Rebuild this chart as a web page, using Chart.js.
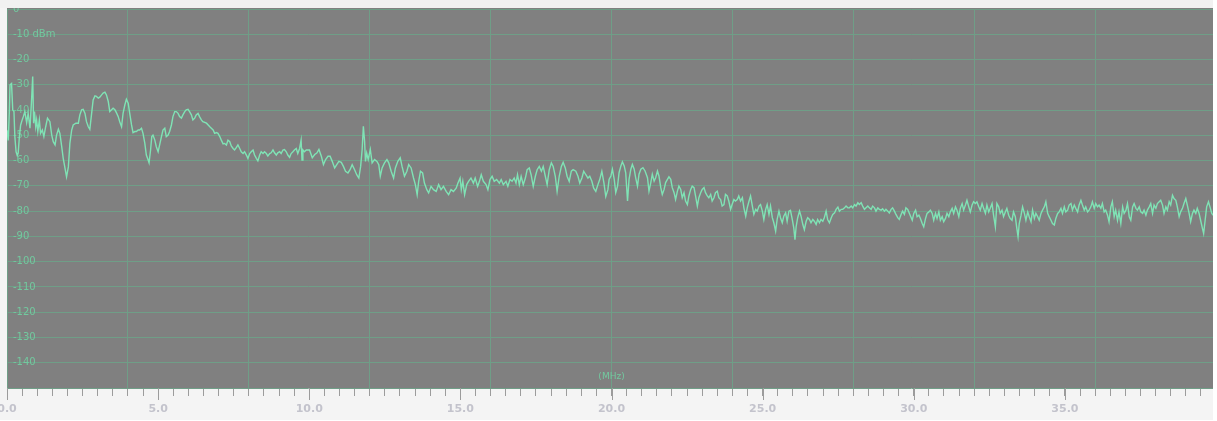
<!DOCTYPE html>
<html><head><meta charset="utf-8">
<script src="https://cdn.jsdelivr.net/npm/chart.js@4.4.1/dist/chart.umd.min.js"></script>
<style>html,body{margin:0;padding:0;background:#f4f4f4;overflow:hidden}canvas{display:block}</style>
</head><body>
<canvas id="c" width="1217" height="421"></canvas>
<script>
// ---- data (frequency in MHz, level in dBm) ----
const freqA=[0.00,0.04,0.08,0.10,0.15,0.19,0.23,0.26,0.30,0.34,0.37,0.41,0.45,0.50,0.54,0.59,0.65,0.70,0.76,0.81,0.85,0.88,0.91,0.95,0.98,1.02,1.07,1.11,1.17,1.22,1.28,1.34,1.42,1.48,1.53,1.59,1.64,1.70,1.75,1.81,1.86,1.92,1.97,2.03,2.08,2.14,2.19,2.28,2.36,2.41,2.47,2.52,2.58,2.63,2.69,2.74,2.80,2.85,2.91,2.96,3.02,3.07,3.13,3.18,3.24,3.29,3.35,3.40,3.46,3.51,3.57,3.62,3.68,3.73,3.79,3.84,3.90,3.95,4.01,4.06,4.12,4.17,4.23,4.28,4.34,4.39,4.45,4.50,4.56,4.61,4.67,4.70,4.75,4.79,4.83,4.89,4.94,5.00,5.05,5.11,5.16,5.22,5.27,5.33,5.38,5.44,5.49,5.55,5.60,5.66,5.71,5.77,5.82,5.88,5.93,5.99,6.04,6.10,6.15,6.21,6.26,6.32,6.37,6.43,6.48,6.60,6.71,6.76,6.82,6.87,6.93,6.98,7.04,7.09,7.15,7.20,7.26,7.31,7.37,7.42,7.48,7.53,7.59,7.64,7.70,7.75,7.81,7.86,7.92,7.97,8.03,8.08,8.14,8.19,8.25,8.30,8.36,8.41,8.47,8.52,8.58,8.63,8.69,8.74,8.80,8.85,8.91,8.96,9.02,9.07,9.13,9.18,9.24,9.29,9.35,9.40,9.46,9.51,9.57,9.62,9.68,9.73,9.76,9.79,9.84,9.90,10.01];
const levelA=[-48,-52,-40,-30,-29.5,-40,-40.6,-50.5,-56.5,-58,-57,-50.5,-46,-44,-42.6,-40.6,-45,-41.3,-47.2,-36.6,-26.7,-45.2,-40.6,-46.6,-43.9,-48.5,-43.9,-49.2,-47.9,-50.5,-46.6,-43.2,-44.6,-49.9,-52.5,-53.8,-49.9,-47.6,-49.2,-54.5,-59.1,-63.1,-66.4,-62.5,-53.2,-47.9,-45.9,-45.2,-45.2,-41.9,-39.9,-39.7,-41.3,-44.6,-46.6,-47.6,-41.3,-36.0,-34.4,-34.6,-35.3,-34.9,-34.0,-33.3,-32.9,-34.0,-36.6,-40.6,-39.9,-39.3,-39.9,-41.0,-42.6,-44.6,-46.6,-41.3,-37.9,-35.7,-37.3,-41.3,-45.9,-48.9,-48.5,-48.5,-47.9,-47.9,-47.2,-49.2,-53.2,-57.8,-59.8,-60.9,-55.8,-50.5,-49.9,-51.9,-54.5,-56.5,-53.8,-50.5,-47.9,-47.2,-50.5,-49.9,-48.5,-45.9,-42.6,-40.6,-40.6,-41.3,-42.6,-43.2,-41.9,-40.6,-39.9,-39.7,-40.6,-41.9,-43.9,-43.2,-41.9,-41.3,-42.6,-43.9,-44.6,-45.2,-46.6,-47.2,-47.9,-49.2,-48.9,-49.2,-50.5,-51.9,-53.4,-53.2,-53.8,-51.9,-52.5,-54.2,-55.2,-55.8,-54.8,-53.8,-55.2,-56.5,-57.2,-56.5,-57.8,-59.1,-57.2,-56.5,-55.8,-57.8,-59.1,-60.1,-57.8,-56.5,-57.2,-56.5,-57.2,-58.2,-57.2,-56.9,-55.8,-56.9,-57.8,-56.9,-56.5,-57.2,-55.8,-55.6,-56.5,-57.8,-58.7,-57.2,-56.5,-55.8,-55.2,-57.2,-55.2,-51.9,-59.8,-55.8,-56.5,-55.8,-55.8];
const freqB=[10.10,10.18,10.25,10.32,10.40,10.47,10.54,10.62,10.69,10.76,10.84,10.91,10.98,11.06,11.13,11.20,11.28,11.35,11.42,11.50,11.57,11.64,11.70,11.75,11.79,11.83,11.86,11.90,11.95,12.02,12.08,12.16,12.24,12.30,12.35,12.41,12.49,12.57,12.63,12.71,12.79,12.85,12.93,13.01,13.07,13.15,13.23,13.29,13.37,13.45,13.51,13.57,13.62,13.68,13.75,13.81,13.89,13.95,14.03,14.11,14.20,14.28,14.36,14.44,14.53,14.61,14.69,14.77,14.86,14.92,14.99,15.03,15.08,15.14,15.21,15.27,15.35,15.43,15.49,15.57,15.63,15.69,15.76,15.85,15.91,15.98,16.05,16.12,16.20,16.29,16.35,16.42,16.51,16.57,16.64,16.71,16.78,16.84,16.89,16.95,17.01,17.08,17.15,17.21,17.28,17.34,17.41,17.48,17.54,17.61,17.68,17.74,17.81,17.87,17.94,18.01,18.07,18.14,18.20,18.27,18.34,18.40,18.47,18.53,18.60,18.67,18.73,18.82,18.89,18.95,19.02,19.08,19.15,19.22,19.28,19.35,19.41,19.48,19.55,19.61,19.68,19.75,19.81,19.88,19.92];
const levelB=[-58.9,-57.6,-57.0,-55.6,-58.3,-61.6,-59.6,-58.3,-58.3,-60.3,-62.9,-61.6,-60.3,-60.7,-62.3,-64.2,-64.9,-63.6,-61.6,-63.6,-65.6,-66.9,-62.3,-55.6,-46.4,-52.3,-60.3,-57.0,-59.6,-55.6,-60.9,-59.6,-60.3,-61.6,-66.2,-62.9,-60.9,-59.6,-60.9,-64.2,-66.9,-62.9,-60.3,-58.9,-62.3,-66.2,-64.2,-61.6,-62.9,-66.9,-69.5,-73.5,-68.2,-64.2,-64.9,-68.9,-71.5,-72.8,-70.2,-71.5,-72.2,-69.5,-71.5,-70.2,-72.2,-73.5,-71.5,-72.2,-70.9,-68.9,-66.9,-71.5,-68.2,-73.5,-69.5,-68.2,-66.9,-68.9,-66.9,-70.2,-68.2,-65.6,-68.2,-69.5,-71.5,-67.5,-66.2,-68.2,-67.5,-68.9,-67.5,-69.5,-68.2,-70.2,-67.5,-68.2,-66.9,-68.9,-65.6,-69.5,-66.2,-69.5,-66.9,-63.6,-62.9,-65.6,-70.2,-66.2,-63.6,-62.3,-64.2,-62.3,-66.2,-69.5,-63.6,-60.9,-62.3,-66.2,-72.2,-66.2,-62.3,-60.7,-62.9,-66.2,-68.2,-64.2,-63.6,-64.2,-66.2,-68.9,-66.9,-64.2,-65.6,-66.9,-66.2,-68.2,-70.9,-72.2,-69.5,-67.5,-64.2,-68.9,-74.2,-71.5,-67.5];
const freqC=[19.98,20.03,20.09,20.14,20.20,20.25,20.31,20.36,20.42,20.47,20.53,20.58,20.64,20.69,20.75,20.80,20.86,20.91,20.97,21.04,21.11,21.19,21.24,21.30,21.35,21.41,21.46,21.52,21.57,21.63,21.68,21.74,21.79,21.85,21.90,21.96,22.01,22.07,22.12,22.18,22.23,22.29,22.34,22.40,22.45,22.51,22.56,22.62,22.67,22.73,22.78,22.84,22.89,22.95,23.00,23.06,23.11,23.17,23.22,23.28,23.33,23.39,23.44,23.50,23.55,23.61,23.66,23.72,23.77,23.83,23.88,23.94,23.99,24.05,24.10,24.16,24.21,24.27,24.33,24.38,24.44,24.49,24.55,24.60,24.66,24.71,24.77,24.82,24.88,24.93,24.99,25.04,25.10,25.15,25.21,25.26,25.32,25.37,25.43,25.48,25.54,25.59,25.65,25.70,25.76,25.81,25.87,25.92,25.98,26.03,26.07,26.11,26.16,26.22,26.27,26.33,26.38,26.44,26.49,26.55,26.60,26.66,26.71,26.77,26.82,26.88,26.93,26.99,27.04,27.10,27.15,27.21,27.27,27.32,27.38,27.43,27.49,27.54,27.60,27.65,27.71,27.76,27.82,27.87,27.93,27.98,28.04,28.09,28.15,28.20,28.26,28.31,28.37,28.42,28.48,28.53,28.59,28.64,28.70,28.75,28.81,28.86,28.92,28.97,29.03,29.08,29.14,29.19,29.25,29.30,29.36,29.41,29.47,29.52,29.58,29.63,29.69,29.74,29.80];
const levelC=[-66.1,-63.4,-67.4,-72.7,-70.1,-64.8,-62.1,-60.5,-62.1,-64.8,-76.0,-67.4,-63.4,-61.5,-63.4,-66.8,-70.1,-65.4,-63.4,-62.8,-64.1,-66.8,-72.1,-68.7,-65.4,-68.1,-66.8,-64.1,-66.1,-70.7,-73.4,-71.4,-68.7,-67.4,-66.4,-67.4,-70.7,-72.7,-75.4,-72.1,-70.1,-71.4,-74.7,-72.7,-76.0,-77.4,-74.0,-71.4,-70.1,-70.7,-74.0,-78.0,-74.7,-72.7,-71.4,-70.7,-72.7,-74.0,-74.7,-73.4,-76.0,-74.7,-72.7,-72.1,-74.7,-75.4,-78.0,-77.4,-73.4,-74.0,-76.0,-79.3,-77.4,-75.4,-76.0,-75.4,-74.0,-76.0,-74.7,-78.7,-82.0,-78.7,-76.0,-74.0,-78.0,-81.3,-79.3,-80.0,-78.0,-77.4,-80.0,-83.3,-79.3,-77.4,-81.3,-78.0,-82.6,-84.6,-87.9,-83.3,-80.0,-82.6,-84.6,-82.0,-80.7,-84.0,-80.0,-79.7,-83.3,-86.6,-91.3,-86.0,-82.6,-80.0,-82.0,-85.3,-87.3,-84.0,-82.6,-83.3,-84.6,-83.3,-84.0,-85.3,-83.3,-84.6,-83.3,-84.0,-82.6,-80.0,-83.3,-84.6,-82.6,-81.3,-80.7,-79.3,-78.4,-80.0,-79.3,-79.3,-78.7,-78.0,-78.7,-78.7,-78.0,-78.7,-77.4,-78.0,-76.7,-77.4,-76.7,-78.0,-79.3,-78.7,-78.0,-78.7,-79.3,-78.0,-78.7,-80.0,-78.7,-79.3,-79.6,-79.1,-80.0,-79.3,-80.0,-80.7,-79.3,-78.7,-80.0,-81.3,-82.6,-83.3,-81.3,-80.0,-81.3,-78.7,-79.3];
const freqD=[29.95,30.00,30.06,30.11,30.17,30.22,30.28,30.33,30.39,30.44,30.50,30.55,30.61,30.66,30.72,30.77,30.83,30.88,30.94,30.99,31.05,31.10,31.16,31.21,31.27,31.32,31.38,31.43,31.49,31.54,31.60,31.65,31.71,31.76,31.82,31.87,31.93,31.98,32.04,32.09,32.15,32.20,32.26,32.31,32.37,32.42,32.48,32.53,32.59,32.64,32.70,32.75,32.81,32.86,32.92,32.97,33.03,33.08,33.14,33.19,33.25,33.30,33.36,33.41,33.45,33.49,33.55,33.60,33.66,33.71,33.77,33.82,33.88,33.93,33.99,34.04,34.10,34.15,34.21,34.26,34.32,34.37,34.43,34.48,34.54,34.59,34.65,34.70,34.76,34.81,34.87,34.92,34.98,35.03,35.09,35.14,35.20,35.25,35.31,35.36,35.42,35.47,35.53,35.58,35.64,35.69,35.75,35.80,35.86,35.91,35.97,36.02,36.08,36.13,36.19,36.24,36.30,36.35,36.41,36.46,36.52,36.57,36.63,36.68,36.74,36.79,36.85,36.91,36.96,37.02,37.07,37.13,37.18,37.24,37.29,37.35,37.40,37.46,37.51,37.57,37.62,37.68,37.73,37.79,37.84,37.90,37.95,38.01,38.06,38.12,38.17,38.23,38.28,38.34,38.39,38.45,38.50,38.56,38.61,38.67,38.72,38.78,38.83,38.89,38.94,39.00,39.05,39.11,39.16,39.22,39.27,39.33,39.38,39.44,39.49,39.55,39.59,39.64,39.69,39.75,39.80,39.86,39.91];
const levelD=[-83.6,-80.9,-79.6,-82.2,-81.6,-82.9,-84.9,-86.2,-82.9,-80.9,-80.3,-79.6,-80.9,-83.6,-80.9,-82.9,-80.3,-83.6,-82.2,-84.2,-82.9,-80.9,-82.2,-80.3,-78.9,-80.9,-78.3,-79.6,-82.2,-78.9,-77.0,-79.6,-77.6,-75.7,-78.3,-80.3,-77.6,-76.3,-77.0,-76.3,-78.3,-79.6,-77.0,-78.9,-80.9,-77.6,-80.3,-78.9,-77.0,-81.6,-86.2,-77.0,-78.3,-80.9,-79.6,-82.2,-80.3,-78.9,-81.6,-82.9,-83.6,-80.3,-82.2,-86.8,-90.1,-84.9,-81.6,-78.3,-80.9,-83.6,-80.3,-82.2,-84.2,-79.6,-82.9,-80.9,-82.2,-83.6,-80.9,-79.6,-78.3,-76.3,-80.9,-82.2,-83.6,-84.9,-85.5,-82.9,-80.9,-80.3,-78.9,-80.9,-78.3,-80.3,-79.6,-77.6,-77.0,-79.6,-77.6,-78.9,-80.3,-77.6,-75.7,-77.6,-79.6,-78.3,-80.3,-79.6,-78.3,-76.3,-78.9,-77.0,-78.3,-77.6,-78.9,-77.0,-80.3,-79.6,-81.6,-84.2,-78.3,-76.3,-82.2,-79.6,-83.6,-80.3,-84.9,-78.3,-80.9,-79.6,-77.0,-82.2,-83.6,-78.3,-77.0,-78.9,-79.6,-78.3,-80.3,-80.9,-79.6,-81.6,-79.6,-78.3,-77.0,-80.9,-77.6,-78.9,-77.0,-76.3,-75.7,-77.6,-80.9,-78.3,-79.6,-76.3,-77.6,-73.7,-75.0,-75.7,-78.3,-82.2,-80.3,-78.9,-77.0,-75.0,-77.6,-80.9,-84.2,-80.9,-79.6,-80.9,-78.9,-80.9,-83.6,-86.8,-88.8,-83.6,-78.3,-76.3,-78.3,-80.9,-81.6];

// ---- axis ticks / labels ----
const xMajorValues=[0,5,10,15,20,25,30,35];
const xTickLabels=['0.0','5.0','10.0','15.0','20.0','25.0','30.0','35.0'];
const xGridValues=[0,4,8,12,16,20,24,28,32,36];
const yTickValues=[0,-10,-20,-30,-40,-50,-60,-70,-80,-90,-100,-110,-120,-130,-140,-150];
const yTickLabels=['0','-10 dBm','-20','-30','-40','-50','-60','-70','-80','-90','-100','-110','-120','-130','-140',''];
const xUnitLabel='(MHz)';

const freq=[...freqA,...freqB,...freqC,...freqD];
const level=[...levelA,...levelB,...levelC,...levelD];
const points=freq.map((f,i)=>({x:f,y:level[i]}));

const PLOT_BG='#808080', GRID='#6f9e87', TRACE='#7fe3b5', YLAB='#72c99f', XLAB='#c3c3cc', TICK='#9c9c9c';
const near=(a,b)=>Math.abs(a-b)<1e-6;

const deco={
  id:'deco',
  beforeDraw(chart){
    const {ctx,chartArea:a,width,height}=chart;
    ctx.save();
    ctx.fillStyle='#f4f4f4';ctx.fillRect(0,0,width,height);
    ctx.fillStyle='#ffffff';ctx.fillRect(a.right,0,width-a.right,height);
    ctx.fillRect(0,height-1,width,1);
    ctx.fillStyle=PLOT_BG;ctx.fillRect(a.left,a.top-1,a.right-a.left,a.bottom-a.top+1);
    ctx.restore();
  },
  afterDraw(chart){
    const {ctx,chartArea:a}=chart;const xs=chart.scales.x;
    ctx.save();
    ctx.strokeStyle=TICK;ctx.lineWidth=1;
    xMajorValues.forEach(v=>{const px=Math.round(xs.getPixelForValue(v))+0.5;ctx.beginPath();ctx.moveTo(px,a.bottom);ctx.lineTo(px,a.bottom+12);ctx.stroke();});
    ctx.fillStyle=YLAB;ctx.font='9px "DejaVu Sans"';ctx.textAlign='center';ctx.textBaseline='middle';
    ctx.fillText(xUnitLabel,xs.getPixelForValue(20),a.bottom-11);
    ctx.fillStyle='#f1f1f1';ctx.fillRect(0,0,a.right,a.top-1);
    ctx.restore();
  }
};

new Chart(document.getElementById('c'),{
  type:'line',
  data:{datasets:[{data:points,borderColor:TRACE,borderWidth:1.4,pointRadius:0,tension:0,fill:false}]},
  options:{
    responsive:false,animation:false,
    layout:{padding:{left:7,top:9,right:4,bottom:0}},
    plugins:{legend:{display:false},tooltip:{enabled:false}},
    scales:{
      x:{type:'linear',min:0,max:39.9,
        afterBuildTicks:s=>{const t=[];for(let i=0;i<=79;i++)t.push({value:i/2});s.ticks=t;},
        afterFit:s=>{s.height=33;s.paddingLeft=0;s.paddingRight=0;},
        border:{display:false},
        grid:{color:c=>(c.tick&&xGridValues.some(v=>near(v,c.tick.value)))?GRID:'rgba(0,0,0,0)',tickColor:TICK,tickLength:8,lineWidth:1},
        ticks:{autoSkip:false,maxRotation:0,minRotation:0,padding:7,color:XLAB,font:{family:'DejaVu Sans',size:11,weight:'bold'},
          callback:v=>{const i=xMajorValues.findIndex(m=>near(m,v));return i>=0?xTickLabels[i]:'';}}
      },
      y:{type:'linear',min:-150,max:0,
        afterBuildTicks:s=>{s.ticks=yTickValues.map(v=>({value:v}));},
        afterFit:s=>{s.width=0;s.paddingTop=0;s.paddingBottom=0;},
        border:{display:false},
        grid:{color:GRID,lineWidth:1,drawTicks:false},
        ticks:{mirror:true,padding:6,autoSkip:false,color:YLAB,font:{family:'DejaVu Sans',size:10},
          callback:v=>{const i=yTickValues.indexOf(v);return i>=0?yTickLabels[i]:'';}}
      }
    }
  },
  plugins:[deco]
});
</script>
</body></html>
